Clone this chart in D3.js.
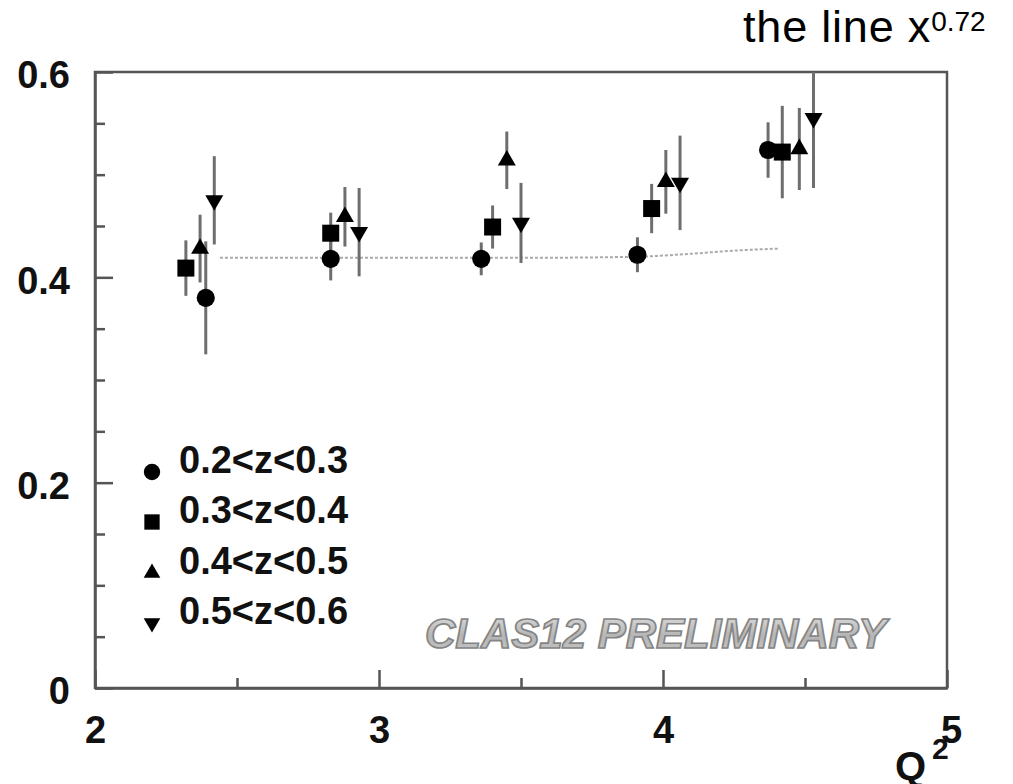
<!DOCTYPE html>
<html>
<head>
<meta charset="utf-8">
<script src="https://cdn.jsdelivr.net/npm/d3@7"></script>
<style>
  html, body { margin: 0; padding: 0; background: #fff; }
  svg { display: block; font-family: "Liberation Sans", Arial, sans-serif; }
</style>
</head>
<body>
<svg id="chart" width="1013" height="784"></svg>
<script>
// ---- data ----
const seriesLabels = ["0.2<z<0.3", "0.3<z<0.4", "0.4<z<0.5", "0.5<z<0.6"];
const seriesSymbols = ["circle", "square", "triangle", "invtriangle"];

const q2_z1 = [2.39, 2.83, 3.36, 3.91, 4.37];
const val_z1 = [0.380, 0.418, 0.418, 0.422, 0.524];
const err_z1 = [0.055, 0.021, 0.016, 0.017, 0.027];

const q2_z2 = [2.32, 2.83, 3.40, 3.96, 4.42];
const val_z2 = [0.409, 0.443, 0.449, 0.467, 0.522];
const err_z2 = [0.027, 0.020, 0.021, 0.024, 0.045];

const q2_z3 = [2.37, 2.88, 3.45, 4.01, 4.48];
const val_z3 = [0.428, 0.459, 0.514, 0.493, 0.525];
const err_z3 = [0.033, 0.029, 0.028, 0.031, 0.040];

const q2_z4 = [2.42, 2.93, 3.50, 4.06, 4.53];
const val_z4 = [0.475, 0.444, 0.453, 0.492, 0.555];
const err_z4 = [0.043, 0.043, 0.039, 0.046, 0.068];

const curveQ2 = [2.44, 3.0, 3.5, 3.9, 4.1, 4.25, 4.41];
const curveVal = [0.419, 0.419, 0.419, 0.420, 0.423, 0.426, 0.428];

const xTicks = [2, 3, 4, 5];
const xMinorTicks = [2.5, 3.5, 4.5];
const yTicks = [0, 0.2, 0.4, 0.6];
const yMinorTicks = [0.05, 0.1, 0.15, 0.25, 0.3, 0.35, 0.45, 0.5, 0.55];

const titleText = "the line x";
const titleSup = "0.72";
const watermark = "CLAS12 PRELIMINARY";

// ---- layout ----
const svg = d3.select("#chart");
const L = 95, R = 947, T = 72, B = 688;
const x = d3.scaleLinear().domain([2, 5]).range([L, R]);
const y = d3.scaleLinear().domain([0, 0.6]).range([B, T]);
const axisColor = "#555";
const labelFont = 38;

const series = [
  {q: q2_z1, v: val_z1, e: err_z1},
  {q: q2_z2, v: val_z2, e: err_z2},
  {q: q2_z3, v: val_z3, e: err_z3},
  {q: q2_z4, v: val_z4, e: err_z4}
];

function symPath(kind, s) {
  if (kind === "circle") return d3.symbol(d3.symbolCircle, s.circle)();
  if (kind === "square") return d3.symbol(d3.symbolSquare, s.square)();
  return d3.symbol(d3.symbolTriangle, s.tri)();
}
function symTransform(kind, cx, cy) {
  return kind === "invtriangle" ? `translate(${cx},${cy}) rotate(180)` : `translate(${cx},${cy})`;
}

// defs
const defs = svg.append("defs");
defs.append("clipPath").attr("id", "plotclip")
  .append("rect").attr("x", L).attr("y", T).attr("width", R - L).attr("height", B - T);
const grad = defs.append("linearGradient").attr("id", "wmgrad")
  .attr("x1", 0).attr("y1", 0).attr("x2", 0).attr("y2", 1);
grad.append("stop").attr("offset", "0%").attr("stop-color", "#e2e2e2");
grad.append("stop").attr("offset", "55%").attr("stop-color", "#b5b5b5");
grad.append("stop").attr("offset", "100%").attr("stop-color", "#c8c8c8");

// frame
svg.append("rect").attr("x", L).attr("y", T).attr("width", R - L).attr("height", B - T)
  .attr("fill", "none").attr("stroke", axisColor).attr("stroke-width", 2.5);

// y axis
const yAxis = svg.append("g").attr("transform", `translate(${L},0)`)
  .call(d3.axisLeft(y).tickValues(yTicks).tickSizeInner(-18).tickSizeOuter(0).tickPadding(25)
    .tickFormat(d => d === 0 ? "0" : d3.format(".1f")(d)));
yAxis.select(".domain").attr("stroke", axisColor).attr("stroke-width", 2.5);
yAxis.selectAll(".tick line").attr("stroke", axisColor).attr("stroke-width", 2.5);
yAxis.selectAll(".tick text").attr("fill", "#111").attr("font-size", labelFont).attr("font-weight", "bold")
  .attr("font-family", "Liberation Sans, Arial, sans-serif").attr("dy", "0.42em");

const yMinor = svg.append("g").attr("transform", `translate(${L},0)`)
  .call(d3.axisLeft(y).tickValues(yMinorTicks).tickSizeInner(-10).tickSizeOuter(0).tickFormat(""));
yMinor.select(".domain").remove();
yMinor.selectAll(".tick line").attr("stroke", axisColor).attr("stroke-width", 2.5);

// x axis
const xAxis = svg.append("g").attr("transform", `translate(0,${B})`)
  .call(d3.axisBottom(x).tickValues(xTicks).tickSizeInner(-18).tickSizeOuter(0).tickPadding(28)
    .tickFormat(d3.format("d")));
xAxis.select(".domain").attr("stroke", axisColor).attr("stroke-width", 2.5);
xAxis.selectAll(".tick line").attr("stroke", axisColor).attr("stroke-width", 2.5);
xAxis.selectAll(".tick text").attr("fill", "#111").attr("font-size", labelFont).attr("font-weight", "bold")
  .attr("font-family", "Liberation Sans, Arial, sans-serif")
  .attr("dx", d => d === 5 ? 4 : 0);

const xMinor = svg.append("g").attr("transform", `translate(0,${B})`)
  .call(d3.axisBottom(x).tickValues(xMinorTicks).tickSizeInner(-10).tickSizeOuter(0).tickFormat(""));
xMinor.select(".domain").remove();
xMinor.selectAll(".tick line").attr("stroke", axisColor).attr("stroke-width", 2.5);

// watermark
svg.append("text").attr("x", 425).attr("y", 648)
  .attr("font-size", 42).attr("font-weight", "bold").attr("font-style", "italic")
  .attr("fill", "url(#wmgrad)").attr("stroke", "#858585").attr("stroke-width", 1.7)
  .text(watermark);

// reference curve (dotted)
const curveData = curveQ2.map((q, i) => [q, curveVal[i]]);
svg.append("path").datum(curveData)
  .attr("d", d3.line().x(d => x(d[0])).y(d => y(d[1])).curve(d3.curveMonotoneX))
  .attr("fill", "none").attr("stroke", "#aaa").attr("stroke-width", 2).attr("stroke-dasharray", "3,2");

// data: error bars + markers
const plot = svg.append("g").attr("clip-path", "url(#plotclip)");
const dataSizes = {circle: 260, square: 289, tri: 140};
series.forEach((s) => {
  const pts = s.q.map((q, i) => ({q, v: s.v[i], e: s.e[i]}));
  plot.selectAll(null).data(pts).enter().append("line")
    .attr("x1", d => x(d.q)).attr("x2", d => x(d.q))
    .attr("y1", d => y(d.v + d.e)).attr("y2", d => y(d.v - d.e))
    .attr("stroke", "#6e6e6e").attr("stroke-width", 3);
});
series.forEach((s, si) => {
  const kind = seriesSymbols[si];
  const pts = s.q.map((q, i) => ({q, v: s.v[i]}));
  plot.selectAll(null).data(pts).enter().append("path")
    .attr("d", symPath(kind, dataSizes))
    .attr("transform", d => symTransform(kind, x(d.q), y(d.v)))
    .attr("fill", "#000");
});

// legend
const legSizes = {circle: 210, square: 235, tri: 120};
const legBase = [473, 523, 574, 624];
seriesLabels.forEach((lab, i) => {
  const kind = seriesSymbols[i];
  const cy = legBase[i] - 1;
  svg.append("path").attr("d", symPath(kind, legSizes))
    .attr("transform", symTransform(kind, 152, cy)).attr("fill", "#000");
  svg.append("text").attr("x", 179).attr("y", legBase[i])
    .attr("font-size", labelFont).attr("font-weight", "bold").attr("fill", "#111")
    .text(lab);
});

// axis title Q^2
svg.append("text").attr("x", 895).attr("y", 780)
  .attr("font-size", 40).attr("font-weight", "bold").attr("fill", "#111").text("Q");
svg.append("text").attr("x", 932).attr("y", 759)
  .attr("font-size", 30).attr("font-weight", "bold").attr("fill", "#111").text("2");

// title
const title = svg.append("text").attr("x", 743).attr("y", 42)
  .attr("font-size", 45).attr("letter-spacing", 0.8).attr("fill", "#000");
title.append("tspan").text(titleText);
title.append("tspan").attr("dy", -11).attr("font-size", 28).attr("letter-spacing", 0).text(titleSup);
</script>
</body>
</html>
